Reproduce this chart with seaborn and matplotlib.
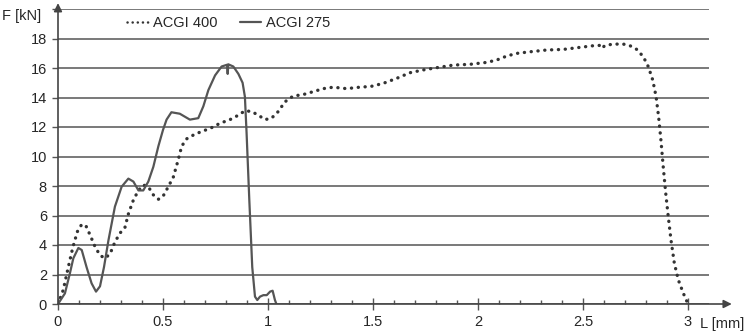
import matplotlib
matplotlib.use("Agg")
import matplotlib.pyplot as plt
import seaborn as sns
import pandas as pd

# ACGI 400 (dotted)
x400 = [0, 0.025, 0.049, 0.07, 0.092, 0.113, 0.133, 0.152, 0.176, 0.2, 0.224, 0.248,
        0.271, 0.295, 0.319, 0.335, 0.359, 0.383, 0.406, 0.43, 0.454, 0.478, 0.5,
        0.525, 0.549, 0.573, 0.589, 0.613, 0.644, 0.684, 0.724, 0.771, 0.819, 0.859,
        0.89, 0.922, 0.954, 0.986, 1.017, 1.049, 1.08, 1.12, 1.168, 1.216, 1.263,
        1.311, 1.374, 1.437, 1.49, 1.549, 1.613, 1.676, 1.74, 1.803, 1.883, 1.962,
        2.041, 2.089, 2.137, 2.184, 2.248, 2.327, 2.406, 2.486, 2.549, 2.578, 2.589,
        2.605, 2.644, 2.692, 2.724, 2.756, 2.787, 2.811, 2.832, 2.848, 2.86, 2.871,
        2.882, 2.894, 2.906, 2.919, 2.935, 2.954, 2.978, 3.0]
f400 = [0, 0.95, 2.5, 3.8, 4.9, 5.4, 5.3, 4.7, 3.9, 3.3, 3.1, 3.4,
        4.2, 4.8, 5.2, 6.1, 7.05, 7.7, 8.07, 7.95, 7.4, 7.1, 7.3,
        7.95, 8.6, 9.8, 10.7, 11.2, 11.45, 11.7, 11.9, 12.25, 12.5, 12.8,
        13.1, 13.05, 12.8, 12.5, 12.6, 13.05, 13.7, 14.1, 14.2, 14.4, 14.6,
        14.7, 14.6, 14.7, 14.75, 14.96, 15.3, 15.68, 15.87, 16.02, 16.2, 16.25,
        16.38, 16.54, 16.81, 16.99, 17.1, 17.22, 17.26, 17.4, 17.51, 17.53, 17.33,
        17.53, 17.62, 17.62, 17.51, 17.26, 16.77, 16.09, 15.19, 14.06, 12.7, 11.12,
        9.31, 7.5, 5.92, 4.34, 2.76, 1.63, 0.72, 0]

# ACGI 275 (solid)
x275 = [0, 0.033, 0.057, 0.073, 0.097, 0.113, 0.136, 0.16, 0.181, 0.2, 0.219, 0.24,
        0.271, 0.303, 0.335, 0.359, 0.383, 0.406, 0.43, 0.454, 0.478, 0.5, 0.517,
        0.54, 0.58, 0.628, 0.668, 0.692, 0.716, 0.748, 0.779, 0.805, 0.808, 0.811,
        0.835, 0.859, 0.879, 0.89, 0.898, 0.911, 0.925, 0.938, 0.949, 0.962, 0.978,
        0.994, 1.01, 1.022, 1.033, 1.04]
f275 = [0, 0.72, 2.1, 3.1, 3.8, 3.66, 2.5, 1.4, 0.84, 1.2, 2.5, 4.3,
        6.6, 7.95, 8.5, 8.3, 7.7, 7.7, 8.3, 9.3, 10.7, 11.8, 12.5,
        13.0, 12.9, 12.5, 12.6, 13.4, 14.5, 15.5, 16.1, 16.22, 15.6, 16.25,
        16.1, 15.6, 15.0, 14.05, 11.6, 7.05, 2.5, 0.5, 0.27, 0.5, 0.6,
        0.6, 0.84, 0.9, 0.27, 0]

y_ticks = [0, 2, 4, 6, 8, 10, 12, 14, 16, 18]
x_ticks = [0, 0.5, 1, 1.5, 2, 2.5, 3]
x_labels = ["0", "0.5", "1", "1.5", "2", "2.5", "3"]

df400 = pd.DataFrame({"L": x400, "F": f400})
df275 = pd.DataFrame({"L": x275, "F": f275})

sns.set_style("white")
plt.rcParams["font.family"] = ["Liberation Sans", "DejaVu Sans"]

fig = plt.figure(figsize=(7.49, 3.35), dpi=100)
ax = fig.add_axes([58 / 749, 31 / 335, (709 - 58) / 749, 295 / 335])

sns.lineplot(data=df400, x="L", y="F", ax=ax, sort=False, color="#333333",
             linewidth=2.4, linestyle=(0, (0.05, 2.0)), dash_capstyle="round",
             label="ACGI 400")
sns.lineplot(data=df275, x="L", y="F", ax=ax, sort=False, color="#555555",
             linewidth=1.6, label="ACGI 275")

ax.set_xlim(0, 3.1)
ax.set_ylim(0, 20)
ax.set_yticks(y_ticks + [20])
ax.set_yticklabels([str(v) for v in y_ticks] + [""])
ax.set_xticks(x_ticks)
ax.set_xticklabels(x_labels)
ax.set_xticks([i / 10 for i in range(1, 31) if i % 5 != 0], minor=True)
ax.yaxis.grid(True, color="#555555", linewidth=1.1)
ax.set_axisbelow(True)

for s in ["top", "right", "left", "bottom"]:
    ax.spines[s].set_visible(False)

ax.tick_params(axis="y", direction="out", length=4, width=1, color="#555555",
               labelsize=10.5, pad=4, left=True)
ax.tick_params(axis="x", which="major", direction="inout", length=8, width=1,
               color="#555555", labelsize=10.5, pad=4, bottom=True)
ax.tick_params(axis="x", which="minor", direction="in", length=3, width=1,
               color="#555555", bottom=True)

# axes with arrows
ax.annotate("", xy=(1.035, 0), xytext=(0, 0), xycoords="axes fraction",
            arrowprops=dict(arrowstyle="-|>", color="#444444", lw=1.2,
                            mutation_scale=12, shrinkA=0, shrinkB=0))
ax.annotate("", xy=(0, 1.02), xytext=(0, 0), xycoords="axes fraction",
            arrowprops=dict(arrowstyle="-|>", color="#444444", lw=1.2,
                            mutation_scale=12, shrinkA=0, shrinkB=0))

fig.text(2 / 749, 1 - 16 / 335, "F [kN]", fontsize=10.5, va="center", ha="left")
fig.text(700 / 749, 1 - 324 / 335, "L [mm]", fontsize=10.5, va="center", ha="left")

ax.set_xlabel("")
ax.set_ylabel("")
leg = ax.legend(loc="center left", bbox_to_anchor=(0.095, 0.953), ncol=2,
                frameon=False, fontsize=10.5, handlelength=1.4,
                handletextpad=0.35, columnspacing=1.6, borderpad=0)
leg.get_lines()[0].set_linewidth(1.8)

fig.savefig("out.png", dpi=100)
